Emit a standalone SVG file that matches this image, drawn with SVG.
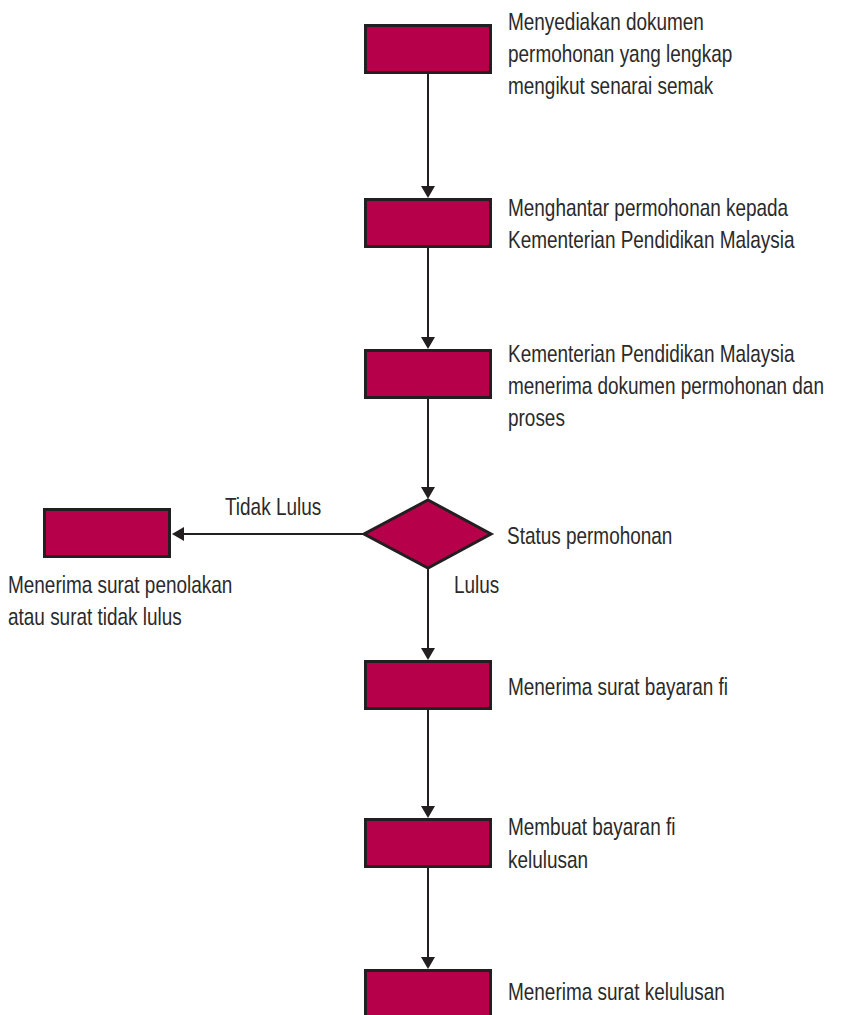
<svg xmlns="http://www.w3.org/2000/svg" width="843" height="1015" viewBox="0 0 843 1015">
<defs>
<style>
.box{fill:#b7004a;stroke:#231f20;stroke-width:3}
.ln{stroke:#231f20;stroke-width:2;fill:none}
.ah{fill:#231f20}
.t{font-family:"Liberation Sans",Arial,sans-serif;font-size:24px;fill:#2b2a2a}
</style>
</defs>
<rect width="843" height="1015" fill="#ffffff"/>
<g id="connectors">
<line class="ln" x1="428" y1="73" x2="428" y2="188"/>
<polygon class="ah" points="421,186 435,186 428,198"/>
<line class="ln" x1="428" y1="248" x2="428" y2="339"/>
<polygon class="ah" points="421,337 435,337 428,349"/>
<line class="ln" x1="428" y1="399" x2="428" y2="489"/>
<polygon class="ah" points="421,487 435,487 428,499"/>
<line class="ln" x1="363" y1="534" x2="182" y2="534"/>
<polygon class="ah" points="184,527 184,541 172,534"/>
<text class="t" transform="matrix(0.79 0 0 1 225 515)">Tidak Lulus</text>
<line class="ln" x1="428" y1="569" x2="428" y2="650"/>
<polygon class="ah" points="421,648 435,648 428,660"/>
<text class="t" transform="matrix(0.79 0 0 1 454 593)">Lulus</text>
<line class="ln" x1="428" y1="710" x2="428" y2="808"/>
<polygon class="ah" points="421,806 435,806 428,818"/>
<line class="ln" x1="428" y1="868" x2="428" y2="959"/>
<polygon class="ah" points="421,957 435,957 428,969"/>
</g>
<g id="n1">
<rect class="box" x="365.5" y="25.5" width="125" height="47"/>
<text class="t" transform="matrix(0.79 0 0 1 508 30)">Menyediakan dokumen</text>
<text class="t" transform="matrix(0.79 0 0 1 508 62)">permohonan yang lengkap</text>
<text class="t" transform="matrix(0.79 0 0 1 508 94)">mengikut senarai semak</text>
</g>
<g id="n2">
<rect class="box" x="365.5" y="199.5" width="125" height="47"/>
<text class="t" transform="matrix(0.79 0 0 1 508 216)">Menghantar permohonan kepada</text>
<text class="t" transform="matrix(0.79 0 0 1 508 248)">Kementerian Pendidikan Malaysia</text>
</g>
<g id="n3">
<rect class="box" x="365.5" y="350.5" width="125" height="47"/>
<text class="t" transform="matrix(0.79 0 0 1 508 362)">Kementerian Pendidikan Malaysia</text>
<text class="t" transform="matrix(0.79 0 0 1 508 394)">menerima dokumen permohonan dan</text>
<text class="t" transform="matrix(0.79 0 0 1 508 426)">proses</text>
</g>
<g id="n4">
<polygon class="box" points="428,500 491,534 428,568 364,534"/>
<text class="t" transform="matrix(0.79 0 0 1 507 544)">Status permohonan</text>
</g>
<g id="n5">
<rect class="box" x="44.5" y="509.5" width="125" height="47"/>
<text class="t" transform="matrix(0.79 0 0 1 8 593)">Menerima surat penolakan</text>
<text class="t" transform="matrix(0.79 0 0 1 8 625)">atau surat tidak lulus</text>
</g>
<g id="n6">
<rect class="box" x="365.5" y="661.5" width="125" height="47"/>
<text class="t" transform="matrix(0.79 0 0 1 508 695)">Menerima surat bayaran fi</text>
</g>
<g id="n7">
<rect class="box" x="365.5" y="819.5" width="125" height="47"/>
<text class="t" transform="matrix(0.79 0 0 1 508 835)">Membuat bayaran fi</text>
<text class="t" transform="matrix(0.79 0 0 1 508 868)">kelulusan</text>
</g>
<g id="n8">
<rect class="box" x="365.5" y="970.5" width="125" height="47"/>
<text class="t" transform="matrix(0.79 0 0 1 508 1000)">Menerima surat kelulusan</text>
</g>
</svg>
